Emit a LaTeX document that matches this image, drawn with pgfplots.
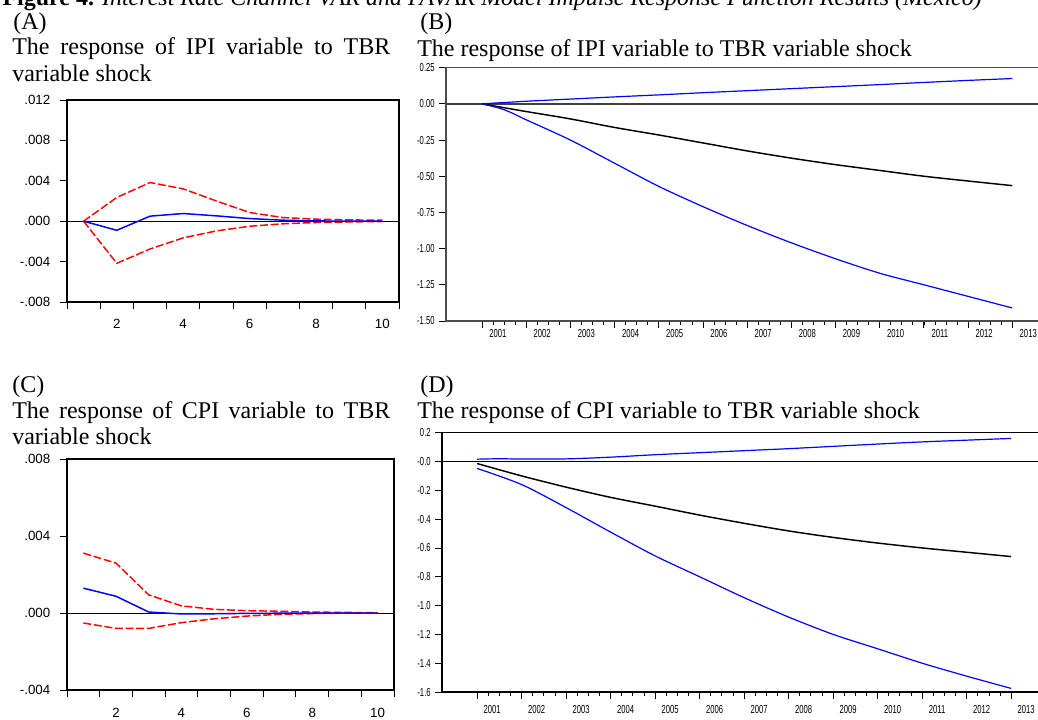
\documentclass[border=0pt]{standalone}
\usepackage{fontspec}
\setmainfont{Liberation Serif}
\newfontfamily\tickfont{Liberation Sans}
\newfontfamily\narrowfont[FakeStretch=0.66]{Liberation Sans}
\usepackage{pgfplots}
\pgfplotsset{compat=1.18}

% small EViews-style panels (A, C)
\pgfplotsset{
  irfsmall/.style={
    scale only axis, anchor=south west,
    xmin=0.5, xmax=10.5,
    xtick={0.5,1.5,...,10.5},
    xticklabels={,2,,4,,6,,8,,10,},
    tick align=outside, xtick pos=left, ytick pos=left,
    major tick length=5.5pt,
    axis line style={line width=1.4pt},
    every tick/.style={black, line width=0.7pt},
    ticklabel style={font=\tickfont\fontsize{10}{12}\selectfont},
    yticklabel style={xshift=-3.5pt},
    scaled y ticks=false,
  },
  irfyear/.style={
    scale only axis, anchor=south west,
    xtick={2001,2002,...,2013},
    xticklabels={2001,2002,2003,2004,2005,2006,2007,2008,2009,2010,2011,2012,2013},
    minor xtick={2001.25,2001.5,...,2012.75},
    tick align=outside, xtick pos=left, ytick pos=left,
    major tick length=5pt, minor tick length=3pt,
    every tick/.style={black, line width=0.6pt},
    ticklabel style={font=\narrowfont\fontsize{8.7}{10}\selectfont},
  },
  bandline/.style={red, dash pattern=on 6pt off 2pt, line width=1.1pt},
  midline/.style={blue, line width=1.1pt},
}

\begin{document}
\begin{tikzpicture}
\path[use as bounding box, clip] (0pt,0pt) rectangle (778.5pt,-540pt);

\node[anchor=base east, inner sep=0] at (736.5pt,-4.5pt)
  {\fontsize{18}{20}\selectfont\textbf{Figure 4.} \textit{Interest Rate Channel VAR and FAVAR Model Impulse Response Function Results (Mexico)}};

% ---- texts
\begin{scope}[every node/.style={inner sep=0, font=\fontsize{18}{20}\selectfont}]
\node[anchor=base west] at (9.75pt,-22.5pt) {(A)};
\node[anchor=base west] at (315pt,-22.5pt) {(B)};
\node[anchor=base west] at (9pt,-294pt) {(C)};
\node[anchor=base west] at (315pt,-294pt) {(D)};
\node[anchor=base west, text width=283.5pt, align=justify] at (9pt,-41.25pt)
  {The response of IPI variable to TBR variable shock};
\node[anchor=base west, text width=283.5pt, align=justify] at (9pt,-313.5pt)
  {The response of CPI variable to TBR variable shock};
\node[anchor=base west] at (312.75pt,-42.75pt) {The response of IPI variable to TBR variable shock};
\node[anchor=base west] at (312.75pt,-313.5pt) {The response of CPI variable to TBR variable shock};
\end{scope}

% ---- (A)
\begin{axis}[irfsmall, at={(50.25pt,-226.5pt)}, width=249pt, height=151.5pt,
  xticklabel style={xshift=12.45pt, yshift=-3.8pt},
  ymin=-0.008, ymax=0.012,
  ytick={-0.008,-0.004,0,0.004,0.008,0.012},
  yticklabels={-.008,-.004,.000,.004,.008,.012}]
\draw[black, line width=0.6pt] (axis cs:0.5,0) -- (axis cs:10.5,0);
\addplot[bandline] coordinates {(1,0)(2,0.00235)(3,0.00383)(4,0.0032)(5,0.002)(6,0.00086)(7,0.00036)(8,0.0002)(9,0.00013)(10,0.0001)};
\addplot[bandline] coordinates {(1,0)(2,-0.00417)(3,-0.00275)(4,-0.00165)(5,-0.00096)(6,-0.0005)(7,-0.00026)(8,-0.00013)(9,-0.00007)(10,-0.00003)};
\addplot[midline] coordinates {(1,0)(2,-0.0009)(3,0.0005)(4,0.00076)(5,0.00053)(6,0.00026)(7,0.0001)(8,0.00003)(9,0)(10,0)};
\end{axis}

% ---- (C)
\begin{axis}[irfsmall, at={(50.25pt,-517.5pt)}, width=245.25pt, height=173.25pt,
  xticklabel style={xshift=12.26pt, yshift=-4.5pt},
  ymin=-0.004, ymax=0.008,
  ytick={-0.004,0,0.004,0.008},
  yticklabels={-.004,.000,.004,.008}]
\draw[black, line width=0.6pt] (axis cs:0.5,0) -- (axis cs:10.5,0);
\addplot[bandline] coordinates {(1,0.00311)(2,0.00259)(3,0.00094)(4,0.00037)(5,0.00019)(6,0.00012)(7,0.00009)(8,0.00005)(9,0.00003)(10,0.00002)};
\addplot[bandline] coordinates {(1,-0.00052)(2,-0.0008)(3,-0.0008)(4,-0.0005)(5,-0.0003)(6,-0.00016)(7,-0.00007)(8,-0.00003)(9,-0.00001)(10,0)};
\addplot[midline] coordinates {(1,0.00129)(2,0.00087)(3,0.00005)(4,-0.00005)(5,-0.00004)(6,-0.00002)(7,-0.00001)(8,0)(9,0)(10,0)};
\end{axis}

% ---- (B)
\begin{axis}[irfyear, at={(334.5pt,-240.75pt)}, width=449.25pt, height=190pt,
  xmin=2000.186, xmax=2013.74,
  xticklabel style={xshift=12pt, yshift=2pt},
  axis line style={black!70, line width=1pt},
  ymin=-1.5, ymax=0.25,
  ytick={-1.5,-1.25,-1,-0.75,-0.5,-0.25,0,0.25},
  yticklabels={-1.50,-1.25,-1.00,-0.75,-0.50,-0.25,0.00,0.25}]
\draw[black!75, line width=1.4pt] (axis cs:2000.186,0) -- (axis cs:2013.74,0);
\addplot[blue, line width=0.9pt, smooth] coordinates {(2001,0)(2002,0.018)(2003,0.033)(2004,0.048)(2005,0.062)(2006,0.077)(2007,0.091)(2008,0.105)(2009,0.119)(2010,0.133)(2011,0.148)(2012,0.162)(2013,0.175)};
\addplot[black, line width=1.1pt, smooth] coordinates {(2001,0)(2002,-0.053)(2003,-0.104)(2004,-0.163)(2005,-0.215)(2006,-0.27)(2007,-0.325)(2008,-0.375)(2009,-0.42)(2010,-0.46)(2011,-0.5)(2012,-0.533)(2013,-0.565)};
\addplot[blue, line width=0.9pt, smooth] coordinates {(2001,0)(2001.5,-0.04)(2002,-0.11)(2003,-0.25)(2004,-0.41)(2005,-0.57)(2006,-0.71)(2007,-0.84)(2008,-0.96)(2009,-1.07)(2010,-1.17)(2011,-1.25)(2012,-1.33)(2013,-1.41)};
\end{axis}

% ---- (D)
\begin{axis}[irfyear, at={(331.5pt,-519pt)}, width=452.25pt, height=194.5pt,
  xmin=2000.213, xmax=2013.76,
  xticklabel style={xshift=11.25pt, yshift=-1.2pt},
  axis line style={black, line width=0.8pt},
  ymin=-1.6, ymax=0.2,
  ytick={-1.6,-1.4,-1.2,-1,-0.8,-0.6,-0.4,-0.2,0,0.2},
  yticklabels={-1.6,-1.4,-1.2,-1.0,-0.8,-0.6,-0.4,-0.2,-0.0,0.2}]
\draw[black, line width=0.8pt] (axis cs:2000.213,0) -- (axis cs:2013.76,0);
\addplot[blue, line width=0.9pt, smooth] coordinates {(2001,0.016)(2001.5,0.019)(2002,0.017)(2003,0.018)(2004,0.03)(2005,0.047)(2006,0.061)(2007,0.075)(2008,0.089)(2009,0.105)(2010,0.121)(2011,0.136)(2012,0.148)(2013,0.16)};
\addplot[black, line width=1.1pt, smooth] coordinates {(2001,-0.014)(2002,-0.1)(2003,-0.178)(2004,-0.249)(2005,-0.31)(2006,-0.372)(2007,-0.429)(2008,-0.482)(2009,-0.527)(2010,-0.566)(2011,-0.6)(2012,-0.63)(2013,-0.66)};
\addplot[blue, line width=0.9pt, smooth] coordinates {(2001,-0.048)(2002,-0.16)(2003,-0.32)(2004,-0.49)(2005,-0.655)(2006,-0.8)(2007,-0.945)(2008,-1.08)(2009,-1.2)(2010,-1.3)(2011,-1.4)(2012,-1.49)(2013,-1.575)};
\end{axis}
\end{tikzpicture}
\end{document}
